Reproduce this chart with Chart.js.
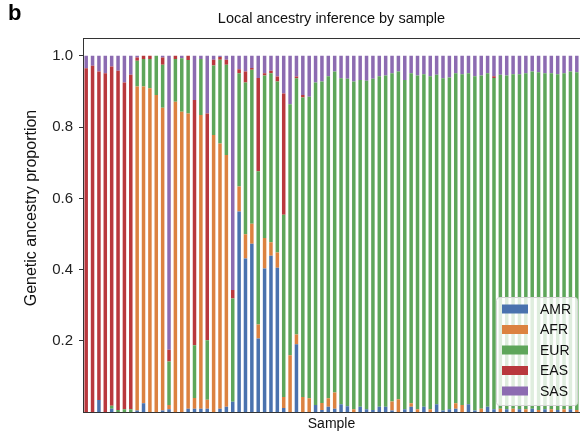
<!DOCTYPE html>
<html>
<head>
<meta charset="utf-8">
<script src="https://cdn.jsdelivr.net/npm/chart.js@4.4.1/dist/chart.umd.min.js"></script>
<style>
  html, body { margin: 0; padding: 0; background: #fff; }
  #wrap { width: 580px; height: 445px; }
</style>
</head>
<body>
<div id="wrap"><canvas id="ancestryChart" width="580" height="445"></canvas></div>
<script>
// Ancestry proportions per sample (stack order bottom -> top)
const amr = [0, 0, 0.034, 0, 0.01, 0, 0, 0, 0.005,
  0.025, 0, 0, 0.005, 0.008, 0, 0, 0.01, 0.01,
  0.01, 0.01, 0, 0.01, 0.015, 0.029, 0.563, 0.431, 0.473,
  0.207, 0.403, 0.439, 0.405, 0.012, 0, 0.191, 0, 0,
  0.02, 0.006, 0.015, 0.01, 0.022, 0.017, 0, 0.015, 0.008, 0.006, 0.015, 0.015, 0.005, 0,
  0.008, 0.015, 0, 0.015, 0, 0.022, 0.005, 0.008, 0.01, 0, 0.022, 0.005, 0, 0.015,
  0.008, 0, 0.008, 0, 0.008, 0, 0.01, 0, 0.008, 0, 0.006, 0, 0.008, 0];

const afr = [0, 0, 0, 0, 0, 0, 0, 0, 0.909,
  0.889, 0.909, 0.89, 0.849, 0.012, 0.871, 0.843, 0.828, 0.03,
  0.824, 0.025, 0.778, 0.744, 0.707, 0, 0.07, 0.068, 0.056,
  0.039, 0.086, 0.038, 0.043, 0.031, 0.16, 0.027, 0.043, 0.039,
  0, 0.02, 0.024, 0.045, 0, 0, 0.008, 0, 0, 0, 0, 0, 0.025, 0.036,
  0, 0.01, 0.008, 0, 0.008, 0, 0, 0, 0.015, 0.02, 0, 0, 0.01, 0,
  0, 0.01, 0, 0.01, 0, 0.008, 0, 0.006, 0, 0.008, 0, 0.008, 0, 0.006];

const eur = [0, 0, 0, 0, 0.008, 0.006, 0.008, 0.008, 0.072,
  0.077, 0.082, 0.11, 0.121, 0.122, 0.12, 0.15, 0.15, 0.148,
  0.157, 0.167, 0.195, 0.235, 0.253, 0.29, 0.318, 0.426, 0.432,
  0.43, 0.456, 0.474, 0.48, 0.511, 0.704, 0.719, 0.84, 0.846,
  0.905, 0.902, 0.904, 0.901, 0.915, 0.919, 0.92, 0.917, 0.922, 0.93, 0.928, 0.93, 0.921, 0.92,
  0.924, 0.926, 0.937, 0.933, 0.935, 0.925, 0.932, 0.931, 0.926, 0.928, 0.929, 0.938, 0.935, 0.936,
  0.93, 0.937, 0.937, 0.938, 0.94, 0.943, 0.946, 0.948, 0.943, 0.943, 0.942, 0.943, 0.948, 0.948];

const eas = [0.965, 0.972, 0.922, 0.951, 0.952, 0.952, 0.917, 0.939, 0.009,
  0.009, 0.009, 0, 0.02, 0.033, 0.009, 0, 0.012, 0.688,
  0, 0.636, 0.016, 0.008, 0.014, 0.024, 0.011, 0.031, 0.005,
  0.262, 0.006, 0.007, 0.014, 0.34, 0, 0.005, 0.007, 0,
  0, 0, 0, 0, 0, 0, 0, 0, 0, 0, 0, 0, 0, 0,
  0, 0, 0, 0, 0, 0, 0, 0, 0, 0, 0, 0, 0, 0,
  0.005, 0, 0, 0, 0, 0, 0, 0, 0, 0, 0, 0, 0, 0];

const sas = [0.035, 0.028, 0.044, 0.049, 0.03, 0.042, 0.075, 0.053, 0.005,
  0, 0, 0, 0.005, 0.825, 0, 0.007, 0, 0.124,
  0.009, 0.162, 0.011, 0.003, 0.011, 0.657, 0.038, 0.044, 0.034,
  0.062, 0.049, 0.042, 0.058, 0.106, 0.136, 0.058, 0.11, 0.115,
  0.075, 0.072, 0.057, 0.044, 0.063, 0.064, 0.072, 0.068, 0.07, 0.064, 0.057, 0.055, 0.049, 0.044,
  0.068, 0.049, 0.055, 0.052, 0.057, 0.053, 0.063, 0.061, 0.049, 0.052, 0.049, 0.057, 0.055, 0.049,
  0.057, 0.053, 0.055, 0.052, 0.052, 0.049, 0.044, 0.046, 0.049, 0.049, 0.052, 0.049, 0.044, 0.046];

const populations = ['AMR', 'AFR', 'EUR', 'EAS', 'SAS'];
const popColors   = ['#4a72ae', '#dc8240', '#5ea65a', '#b9383d', '#8c6bb1'];
const yTicks      = [0.2, 0.4, 0.6, 0.8, 1.0];
const samples     = amr.map((_, i) => 'Sample ' + (i + 1));

const FONT = '"Liberation Sans", Arial, Helvetica, sans-serif';

// Title, panel letter, y label, top spine and the in-plot legend
const decor = {
  id: 'decor',
  afterDraw(chart) {
    const { ctx, chartArea: a } = chart;
    ctx.save();

    // top spine
    ctx.strokeStyle = '#333';
    ctx.lineWidth = 1;
    ctx.beginPath();
    ctx.moveTo(a.left, a.top + 0.5);
    ctx.lineTo(a.right, a.top + 0.5);
    ctx.stroke();

    ctx.fillStyle = '#000';
    ctx.font = 'bold 22px ' + FONT;
    ctx.textAlign = 'left';
    ctx.textBaseline = 'alphabetic';
    ctx.fillText('b', 8, 20);

    ctx.fillStyle = '#111';
    ctx.font = '14.5px ' + FONT;
    ctx.textAlign = 'center';
    ctx.textBaseline = 'middle';
    ctx.fillText('Local ancestry inference by sample', (a.left + a.right) / 2, 19);

    ctx.save();
    ctx.font = '16px ' + FONT;
    ctx.translate(32, 208);
    ctx.rotate(-Math.PI / 2);
    ctx.fillText('Genetic ancestry proportion', 0, 0);
    ctx.restore();

    // legend (lower right, semi-transparent frame like matplotlib)
    const bx = 496, by = 297, bw = 81, bh = 108;
    ctx.fillStyle = 'rgba(255,255,255,0.8)';
    ctx.strokeStyle = '#d4d4d4';
    ctx.beginPath();
    ctx.roundRect(bx + 0.5, by + 0.5, bw, bh, 3);
    ctx.fill();
    ctx.stroke();

    ctx.font = '14px ' + FONT;
    ctx.textAlign = 'left';
    chart.data.datasets.forEach((ds, i) => {
      const cy = by + 12 + i * 20.5;
      ctx.fillStyle = ds.backgroundColor;
      ctx.fillRect(bx + 6, cy - 4.5, 26, 9);
      ctx.fillStyle = '#111';
      ctx.fillText(ds.label, bx + 44, cy + 1);
    });

    ctx.restore();
  }
};

new Chart(document.getElementById('ancestryChart'), {
  type: 'bar',
  data: {
    labels: samples,
    datasets: [amr, afr, eur, eas, sas].map((values, i) => ({
      label:              populations[i],
      data:               values,
      backgroundColor:    popColors[i],
      borderWidth:        0,
      barPercentage:      0.55,
      categoryPercentage: 1.0,
    })),
  },
  options: {
    responsive: false,
    animation:  false,
    layout: { padding: { top: 38, right: 0, bottom: 8, left: 0 } },
    plugins: {
      legend:  { display: false },
      title:   { display: false },
      tooltip: { enabled: false },
    },
    scales: {
      x: {
        stacked: true,
        ticks:   { display: false },
        grid:    { display: false, drawTicks: false },
        border:  { display: true, color: '#333', width: 1 },
        title: {
          display: true,
          text:    'Sample',
          color:   '#111',
          font:    { size: 14, family: FONT },
          padding: { top: 4, bottom: 4 },
        },
      },
      y: {
        stacked: true,
        min: 0,
        max: 1.05,
        afterBuildTicks: (scale) => { scale.ticks = yTicks.map(v => ({ value: v })); },
        afterFit: (scale) => { scale.width = 83; },
        ticks: {
          callback: (v) => Number(v).toFixed(1),
          color:    '#222',
          font:     { size: 15, family: FONT },
          padding:  6,
        },
        grid:   { drawOnChartArea: false, drawTicks: true, tickLength: 4, color: '#333' },
        border: { display: true, color: '#333', width: 1 },
      },
    },
  },
  plugins: [decor],
});
</script>
</body>
</html>
